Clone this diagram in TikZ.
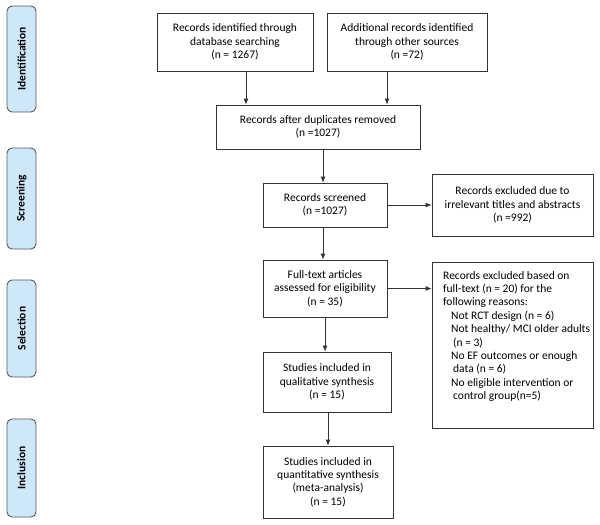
\documentclass[tikz,border=0pt]{standalone}
\usepackage{fontspec}
\setmainfont{Carlito}
\usetikzlibrary{arrows.meta}
\definecolor{phasefill}{RGB}{206,232,250}
\definecolor{linecol}{RGB}{50,50,50}
\tikzset{
  box/.style={draw=linecol, line width=0.8pt, align=center, font=\fontsize{11.5}{13.4}\selectfont, inner sep=2pt},
  phase/.style={draw=black!65, line width=0.9pt, fill=phasefill, rounded corners=5pt, minimum height=29pt, rotate=90, font=\fontsize{11.5}{13}\selectfont\bfseries, inner sep=0pt},
  arr/.style={draw=linecol, line width=0.8pt, -{Latex[length=6pt,width=5pt]}},
}
\begin{document}
\begin{tikzpicture}[x=1pt,y=-1pt]
\useasboundingbox (0,0) rectangle (600,525);
% phase labels
\node[phase, minimum width=106pt] (p1) at (21.5,59) {Identification};
\node[phase, minimum width=101pt] (p2) at (21.5,198.5) {Screening};
\node[phase, minimum width=97pt] (p3) at (21.5,328.5) {Selection};
\node[phase, minimum width=98pt] (p4) at (21.5,468) {Inclusion};
% boxes
\node[box, minimum width=156pt, minimum height=58pt] (b1) at (235,42) {Records identified through\\database searching\\(n = 1267)};
\node[box, minimum width=160pt, minimum height=58pt] (b2) at (407,42) {Additional records identified\\through other sources\\(n =72)};
\node[box, minimum width=204pt, minimum height=44pt] (b3) at (318,127) {Records after duplicates removed\\(n =1027)};
\node[box, minimum width=124pt, minimum height=44pt] (b4) at (325,205) {Records screened\\(n =1027)};
\node[box, minimum width=161pt, minimum height=62pt] (b5) at (512.5,205) {Records excluded due to\\irrelevant titles and abstracts\\(n =992)};
\node[box, minimum width=124pt, minimum height=57pt] (b6) at (325,288.5) {Full-text articles\\assessed for eligibility\\(n = 35)};
\node[box, minimum width=161pt, minimum height=166pt] (b7) at (512.5,345) {};
\node[align=left, anchor=north west, inner sep=0pt, font=\fontsize{11.5}{13.4}\selectfont] (t7) at (443,271) {Records excluded based on\\full-text (n = 20) for the\\following reasons:\\\hspace*{8pt}Not RCT design (n = 6)\\\hspace*{8pt}Not healthy/ MCI older adults\\\hspace*{10pt}(n = 3)\\\hspace*{8pt}No EF outcomes or enough\\\hspace*{10pt}data (n = 6)\\\hspace*{8pt}No eligible intervention or\\\hspace*{10pt}control group(n=5)};
\node[box, minimum width=128pt, minimum height=60pt] (b8) at (327,382) {Studies included in\\qualitative synthesis\\(n = 15)};
\node[box, minimum width=130pt, minimum height=72pt] (b9) at (328,482) {Studies included in\\quantitative synthesis\\(meta-analysis)\\(n = 15)};
% arrow x positions
\coordinate (a1) at (246,0);
\coordinate (a2) at (387,0);
\coordinate (a3) at (323,0);
\coordinate (a4) at (325,0);
\coordinate (a5) at (328,0);
\draw[arr] (b1.south -| a1) -- (b3.north -| a1);
\draw[arr] (b2.south -| a2) -- (b3.north -| a2);
\draw[arr] (b3.south -| a3) -- (b4.north -| a3);
\draw[arr] (b4.south -| a3) -- (b6.north -| a3);
\draw[arr] (b6.south -| a4) -- (b8.north -| a4);
\draw[arr] (b8.south -| a5) -- (b9.north -| a5);
\draw[arr] (b4.east) -- (b5.west |- b4.east);
\draw[arr] (b6.east) -- (b7.west |- b6.east);
\end{tikzpicture}
\end{document}
